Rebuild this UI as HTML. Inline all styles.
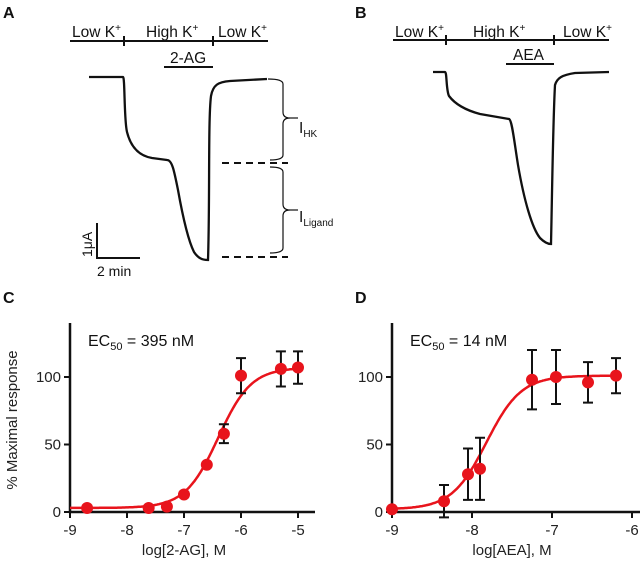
<!DOCTYPE html>
<html><head><meta charset="utf-8"><style>
body{margin:0;background:#fff}
svg{display:block;font-family:"Liberation Sans",Arial,sans-serif}
</style></head><body>
<svg width="640" height="561" viewBox="0 0 640 561">
<g font-weight="bold" font-size="16" fill="#111">
<text x="3" y="18">A</text>
<text x="355" y="18">B</text>
<text x="3" y="303">C</text>
<text x="355" y="303">D</text>
</g>
<!-- Panel A -->
<g stroke="#111" fill="none" stroke-width="2">
<line x1="70" y1="41" x2="268" y2="41"/>
<line x1="124" y1="36" x2="124" y2="46"/><line x1="213" y1="36" x2="213" y2="46"/>
<line x1="164" y1="67" x2="213" y2="67"/>
<path stroke-width="2.3" d="M89,77 L123,77 C125,77 124,120 127,132 C131,148 140,156 152,158 L167,160 C172,160 174,170 178,190 C183,218 188,240 194,252 C198,258 202,260 208,260 C210,200 208,120 211,96 C213,85 218,82 230,81 L267,79"/>
<line x1="222" y1="163" x2="288" y2="163" stroke-dasharray="7,5"/>
<line x1="222" y1="257" x2="288" y2="257" stroke-dasharray="7,5"/>
<path stroke-width="1.2" d="M268,79 Q283,79 283,84 L283,112 Q283,118 290,118 Q283,118 283,124 L283,155 Q283,160 270,160"/>
<path stroke-width="1.2" d="M270,167 Q283,167 283,172 L283,204 Q283,210 290,210 Q283,210 283,216 L283,248 Q283,253 270,253"/>
<line x1="290" y1="118" x2="298" y2="118" stroke-width="1.2"/><line x1="290" y1="210" x2="298" y2="210" stroke-width="1.2"/>
<path d="M97,223 L97,258 L140,258"/>
</g>
<g font-size="15.5" fill="#111">
<text x="72" y="37">Low K<tspan font-size="10" dy="-6">+</tspan></text>
<text x="146" y="37">High K<tspan font-size="10" dy="-6">+</tspan></text>
<text x="218" y="37">Low K<tspan font-size="10" dy="-6">+</tspan></text>
<text x="170" y="63">2-AG</text>
<text x="299" y="133">I<tspan font-size="10" dy="4">HK</tspan></text>
<text x="299" y="222">I<tspan font-size="10" dy="4">Ligand</tspan></text>
<text transform="translate(92,257) rotate(-90)" font-size="14">1μA</text>
<text x="97" y="276" font-size="14">2 min</text>
<text x="395" y="37">Low K<tspan font-size="10" dy="-6">+</tspan></text>
<text x="473" y="37">High K<tspan font-size="10" dy="-6">+</tspan></text>
<text x="563" y="37">Low K<tspan font-size="10" dy="-6">+</tspan></text>
<text x="513" y="60">AEA</text>
</g>
<!-- Panel B -->
<g stroke="#111" fill="none" stroke-width="2">
<line x1="393" y1="40" x2="609" y2="40"/>
<line x1="446" y1="35" x2="446" y2="45"/><line x1="554" y1="35" x2="554" y2="45"/>
<line x1="506" y1="64" x2="554" y2="64"/>
<path stroke-width="2.3" d="M433,72 L445,72 C447,72 446,90 449,96 C455,104 465,110 480,114 L509,119 C512,120 514,140 518,165 C524,200 532,228 540,238 C544,242 548,244 551,244 C552,200 553,120 555,85 C557,78 562,75 575,73 L609,72"/>
</g>
<g id="c"></g>
<g id="d"></g>
</svg>
<script>
const cX=[-8.7,-7.62,-7.3,-7,-6.6,-6.3,-6,-5.3,-5];
const cY=[3,3,4,13,35,58,101,106,107];
const cErr=[0,0,0,0,0,7,13,13,12];
const cFit=[3,107,-6.4,1.5];
const cXTicks=[-9,-8,-7,-6,-5];
const dX=[-9,-8.35,-8.05,-7.9,-7.25,-6.95,-6.55,-6.2];
const dY=[2,8,28,32,98,100,96,101];
const dErr=[0,12,19,23,22,20,15,13];
const dFit=[2,101,-7.82,2];
const dXTicks=[-9,-8,-7,-6];
const yTicks=[0,50,100];
const NS="http://www.w3.org/2000/svg";
function mk(p,t,a){const e=document.createElementNS(NS,t);for(const k in a)e.setAttribute(k,a[k]);p.appendChild(e);return e;}
function panel(g,xs,ys,es,fit,ticks,x0,x1,px0,px1,xlab,ec,showY){
 const sx=v=>px0+(v-x0)/(x1-x0)*(px1-px0);
 const sy=v=>512-v*1.35;
 const ax=mk(g,'path',{d:`M${px0},323 L${px0},512 L${px1+17},512`,stroke:'#111','stroke-width':2.5,fill:'none'});
 
 ticks.forEach(t=>{const l=mk(g,'line',{x1:sx(t),x2:sx(t),y1:512,y2:518,stroke:'#111','stroke-width':2});
  
  const tx=mk(g,'text',{x:sx(t),y:535,'text-anchor':'middle','font-size':15,fill:'#222'});tx.textContent=t;
  });
 yTicks.forEach(t=>{const l=mk(g,'line',{x1:px0-6,x2:px0,y1:sy(t),y2:sy(t),stroke:'#111','stroke-width':2});
  
  const tx=mk(g,'text',{x:px0-9,y:sy(t)+5,'text-anchor':'end','font-size':15,fill:'#222'});tx.textContent=t;
  });
 let d='';for(let i=0;i<=200;i++){const v=x0+(xs[xs.length-1]-x0)*i/200;const y=fit[0]+(fit[1]-fit[0])/(1+Math.pow(10,(fit[2]-v)*fit[3]));d+=(i?'L':'M')+sx(v).toFixed(1)+','+sy(y).toFixed(1);}
 const c=mk(g,'path',{d,stroke:'#e8141c','stroke-width':2.5,fill:'none'});
 
 xs.forEach((x,i)=>{if(es[i]>0){const X=sx(x),a=sy(ys[i]+es[i]),b=sy(ys[i]-es[i]);
  const e=mk(g,'path',{d:`M${X},${a} L${X},${b} M${X-5},${a} L${X+5},${a} M${X-5},${b} L${X+5},${b}`,stroke:'#111','stroke-width':2,fill:'none'});
  }
  const p=mk(g,'circle',{cx:sx(x),cy:sy(ys[i]),r:6,fill:'#e8141c'});
  });
 const xl=mk(g,'text',{x:(px0+px1)/2,y:555,'text-anchor':'middle','font-size':15,fill:'#222'});xl.textContent=xlab;
 
 const et=mk(g,'text',{x:px0+18,y:346,'font-size':16,fill:'#111'});
 et.innerHTML='EC<tspan font-size="11" dy="4">50</tspan><tspan dy="-4"> = '+ec+'</tspan>';
 
 if(showY){const yt=mk(g,'text',{transform:'translate(17,420) rotate(-90)','text-anchor':'middle','font-size':15,fill:'#222'});yt.textContent='% Maximal response';
  }
}
panel(document.getElementById('c'),cX,cY,cErr,cFit,cXTicks,-9,-5,70,298,'log[2-AG], M','395 nM',true);
panel(document.getElementById('d'),dX,dY,dErr,dFit,dXTicks,-9,-6,392,632,'log[AEA], M','14 nM',false);
</script>
</body></html>
